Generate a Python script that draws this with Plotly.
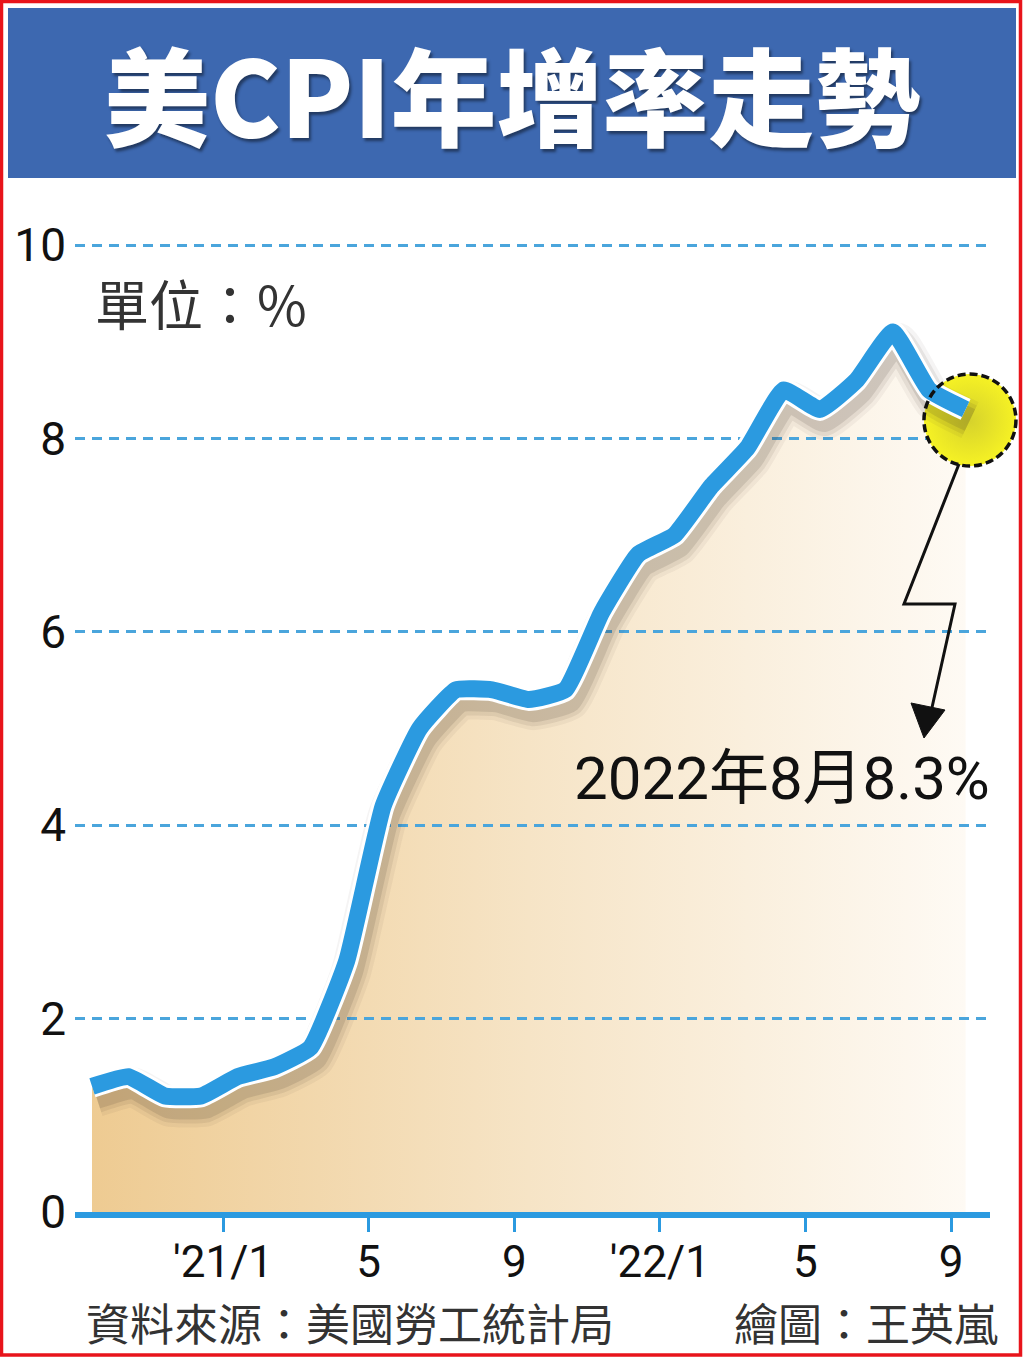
import plotly.graph_objects as go

# 美國CPI年增率(%), 2020/8 ~ 2022/8
months = ["2020/8", "2020/9", "2020/10", "2020/11", "2020/12",
          "2021/1", "2021/2", "2021/3", "2021/4", "2021/5", "2021/6",
          "2021/7", "2021/8", "2021/9", "2021/10", "2021/11", "2021/12",
          "2022/1", "2022/2", "2022/3", "2022/4", "2022/5", "2022/6",
          "2022/7", "2022/8"]
cpi = [1.3, 1.4, 1.2, 1.2, 1.4, 1.5, 1.7, 2.6, 4.2, 5.0, 5.4, 5.4, 5.3,
       5.4, 6.2, 6.8, 7.0, 7.5, 7.9, 8.5, 8.3, 8.6, 9.1, 8.5, 8.3]
idx = list(range(len(months)))

y_ticks = [0, 2, 4, 6, 8, 10]
# tick marks in the original sit a bit left of the months they name
x_tick_pos = [3.6, 7.6, 11.6, 15.6, 19.6, 23.6]
x_tick_text = ["'21/1", "5", "9", "'22/1", "5", "9"]

title = "美CPI年增率走勢"
unit = "單位：%"
callout = "2022年8月8.3%"
source = "資料來源：美國勞工統計局"
credit = "繪圖：王英嵐"

# page geometry (pixels)
W, H = 1024, 1358
PL, PR = 75, 990          # plot area left / right
X0_PX, X_STEP = 92, 36.4  # first month position, px per month
Y0_PX, Y_STEP = 1212, 96.7
Y_MAX = 10.4

xr = [(PL - X0_PX) / X_STEP, (PR - X0_PX) / X_STEP]
yr = [0, Y_MAX]
dom_x = [PL / W, PR / W]
dom_y = [1 - Y0_PX / H, 1 - (Y0_PX - Y_MAX * Y_STEP) / H]

# drop shadow: same data on axes nudged so it lands lower-right
SX, SY = 0.12, 0.11
xr2 = [xr[0] - SX, xr[1] - SX]
yr2 = [yr[0] + SY, yr[1] + SY]

BLUE = "#2b9ae0"
GRID = "#4aa5dc"
NUM_FONT = "Roboto, Liberation Sans, sans-serif"
CJK_FONT = "Noto Sans CJK TC, Noto Sans CJK SC, sans-serif"


def px(x, y):
    return x / W, 1 - y / H


def to_paper(xv, yv, xrange, yrange):
    fx = dom_x[0] + (xv - xrange[0]) / (xrange[1] - xrange[0]) * (dom_x[1] - dom_x[0])
    fy = dom_y[0] + (yv - yrange[0]) / (yrange[1] - yrange[0]) * (dom_y[1] - dom_y[0])
    return fx, fy


def path(points, close=False):
    pts = [px(x, y) for x, y in points]
    s = "M " + " L ".join(f"{a:.5f},{b:.5f}" for a, b in pts)
    return s + (" Z" if close else "")


fig = go.Figure()

# area fill (own subplot so the grid can sit on top of it)
fig.add_trace(go.Scatter(
    x=idx, y=cpi, mode="none", fill="tozeroy",
    fillgradient=dict(type="horizontal",
                      colorscale=[[0, "#eecb92"], [0.5, "#f6e4c6"], [1, "#fefaf4"]]),
    xaxis="x", yaxis="y", hoverinfo="skip", showlegend=False))

# yellow highlight disk on the latest value
fig.add_trace(go.Scatter(
    x=[idx[-1]], y=[cpi[-1]], mode="markers", cliponaxis=False,
    marker=dict(size=92, color="#f6f224", line_width=0,
                gradient=dict(type="radial", color="#d6d22c")),
    xaxis="x2", yaxis="y2", hoverinfo="skip", showlegend=False))

# soft shadow under the line
for w, a in [(40, 0.05), (32, 0.08), (24, 0.12)]:
    fig.add_trace(go.Scatter(
        x=idx, y=cpi, mode="lines",
        line=dict(color=f"rgba(50,40,30,{a})", width=w, shape="spline", smoothing=0.4),
        xaxis="x2", yaxis="y2", hoverinfo="skip", showlegend=False))

# white rim + blue line
fig.add_trace(go.Scatter(
    x=idx, y=cpi, mode="lines",
    line=dict(color="white", width=23, shape="spline", smoothing=0.4),
    xaxis="x3", yaxis="y3", hoverinfo="skip", showlegend=False))
fig.add_trace(go.Scatter(
    x=idx, y=cpi, mode="lines", text=months,
    line=dict(color=BLUE, width=17, shape="spline", smoothing=0.4),
    hovertemplate="%{text}: %{y}%<extra></extra>",
    xaxis="x3", yaxis="y3", showlegend=False))

hidden = dict(visible=False, fixedrange=True, automargin=False)
fig.update_layout(
    width=W, height=H,
    margin=dict(l=0, r=0, t=0, b=0, autoexpand=False),
    paper_bgcolor="white", plot_bgcolor="rgba(0,0,0,0)",
    xaxis=dict(domain=dom_x, range=xr, anchor="y", **hidden),
    yaxis=dict(domain=dom_y, range=yr, anchor="x", **hidden),
    xaxis2=dict(domain=dom_x, range=xr2, anchor="y2", **hidden),
    yaxis2=dict(domain=dom_y, range=yr2, anchor="x2", **hidden),
    xaxis3=dict(overlaying="x2", anchor="y3", range=xr, fixedrange=True, automargin=False,
                showgrid=False, zeroline=False,
                showline=True, linecolor=BLUE, linewidth=6,
                ticks="outside", ticklen=14, tickwidth=3, tickcolor=BLUE,
                tickvals=x_tick_pos, ticktext=x_tick_text, ticklabelstandoff=-8,
                tickfont=dict(family=NUM_FONT, size=44, color="#111")),
    yaxis3=dict(overlaying="y2", anchor="x3", range=yr, fixedrange=True, automargin=False,
                showgrid=True, gridcolor=GRID, gridwidth=2.5, griddash="10px,7px",
                zeroline=False, showline=False, ticks="",
                tickvals=y_ticks, ticklabelstandoff=8,
                tickfont=dict(family=NUM_FONT, size=46, color="#111")),
)

# title bar and outer red frame
bx0, by0 = px(8, 178)
bx1, by1 = px(1016, 8)
fig.add_shape(type="rect", xref="paper", yref="paper", x0=bx0, y0=by0, x1=bx1, y1=by1,
              fillcolor="#3d68b0", line_width=0, layer="below")
fx0, fy0 = px(1.5, 1355)
fx1, fy1 = px(1020.5, 1.5)
fig.add_shape(type="rect", xref="paper", yref="paper", x0=fx0, y0=fy0, x1=fx1, y1=fy1,
              line=dict(color="#e8141b", width=3.5), fillcolor="rgba(0,0,0,0)")

# dashed ring round the disk
cx, cy = to_paper(idx[-1], cpi[-1], xr2, yr2)
fig.add_shape(type="circle", xref="paper", yref="paper",
              xsizemode="pixel", ysizemode="pixel", xanchor=cx, yanchor=cy,
              x0=-46, x1=46, y0=-46, y1=46,
              line=dict(color="#111", width=3.5, dash="8px,4px"), layer="above")

# zig-zag callout arrow
fig.add_shape(type="path", xref="paper", yref="paper",
              path=path([(959, 464), (904, 604), (955, 604), (931, 712)]),
              line=dict(color="#111", width=3))
fig.add_shape(type="path", xref="paper", yref="paper",
              path=path([(924, 738), (911, 703), (945, 710)], close=True),
              fillcolor="#111", line=dict(color="#111", width=1))

tx, ty = px(512, 92)
fig.add_annotation(x=tx, y=ty, xref="paper", yref="paper", text=title, showarrow=False,
                   xanchor="center", yanchor="middle",
                   font=dict(family=CJK_FONT, size=106, color="white", weight=900,
                             shadow="2px 3px 3px rgba(0,0,0,0.45)"))

ux, uy = px(93, 302)
fig.add_annotation(x=ux, y=uy, xref="paper", yref="paper", text=unit, showarrow=False,
                   xanchor="left", yanchor="middle",
                   font=dict(family=CJK_FONT, size=54, color="#333"))

ax_, ay_ = px(992, 778)
fig.add_annotation(x=ax_, y=ay_, xref="paper", yref="paper", text=callout, showarrow=False,
                   xanchor="right", yanchor="middle",
                   font=dict(family="Roboto, " + CJK_FONT, size=60, color="#111"))

sx, sy = px(84, 1322)
fig.add_annotation(x=sx, y=sy, xref="paper", yref="paper", text=source, showarrow=False,
                   xanchor="left", yanchor="middle",
                   font=dict(family=CJK_FONT, size=44, color="#333"))
cx2, cy2 = px(1000, 1322)
fig.add_annotation(x=cx2, y=cy2, xref="paper", yref="paper", text=credit, showarrow=False,
                   xanchor="right", yanchor="middle",
                   font=dict(family=CJK_FONT, size=44, color="#333"))

# the page body has a default margin; drop it so the figure fills the window
fig.write_html("out.html", config={"displayModeBar": False},
               post_script="document.body.style.margin='0';")
